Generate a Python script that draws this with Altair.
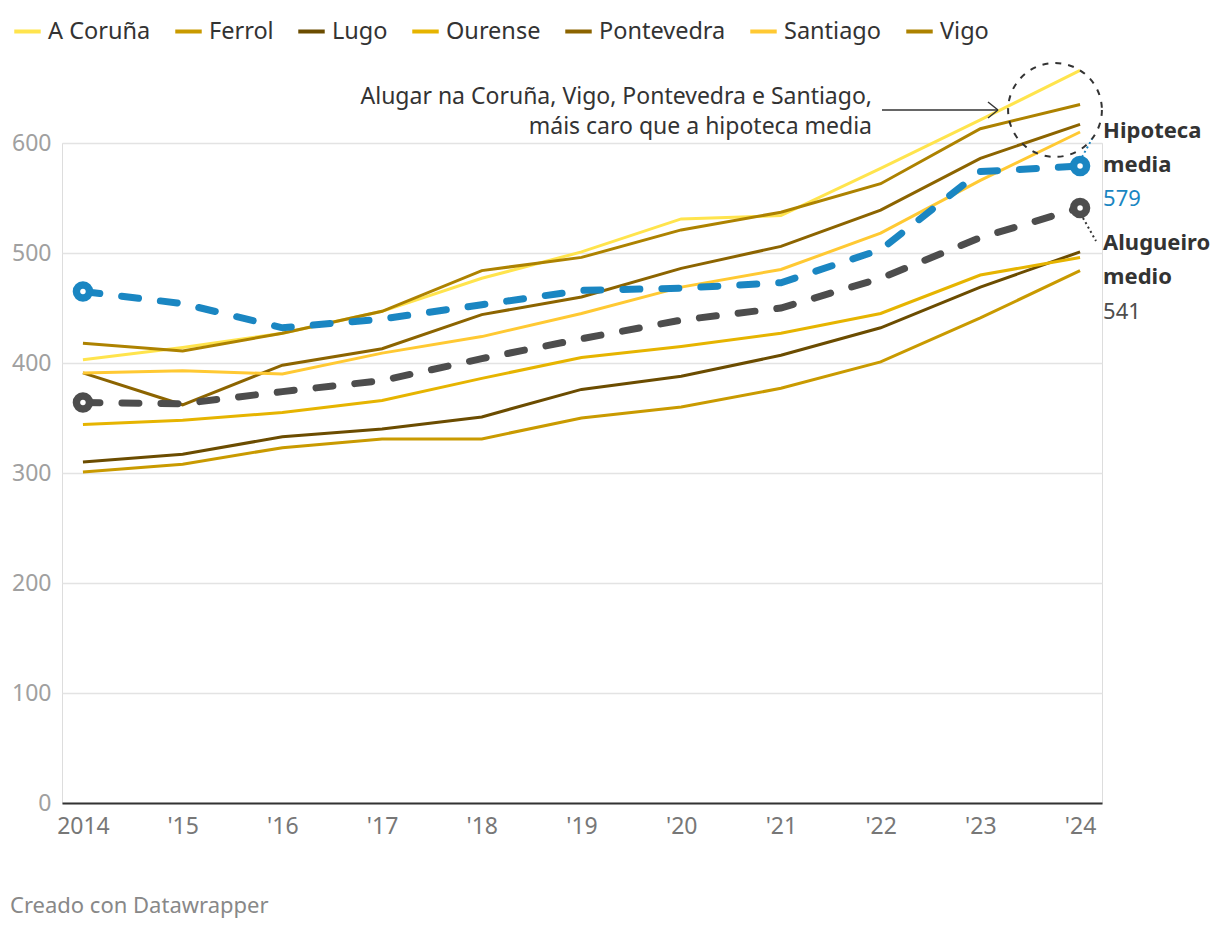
import altair as alt
import pandas as pd

years = [2014, 2015, 2016, 2017, 2018, 2019, 2020, 2021, 2022, 2023, 2024]
cities = ["A Coruña", "Ferrol", "Lugo", "Ourense", "Pontevedra", "Santiago", "Vigo"]
city_colors = ["#ffe44d", "#c99a00", "#6b4c00", "#e6b400", "#8c6400", "#ffc933", "#ad8200"]

a_coruna = [403, 414, 427, 447, 477, 501, 531, 534, 577, 621, 666]
ferrol = [301, 308, 323, 331, 331, 350, 360, 377, 401, 441, 484]
lugo = [310, 317, 333, 340, 351, 376, 388, 407, 432, 469, 501]
ourense = [344, 348, 355, 366, 386, 405, 415, 427, 445, 480, 496]
pontevedra = [391, 362, 398, 413, 444, 460, 486, 506, 539, 586, 617]
santiago = [391, 393, 390, 409, 424, 445, 469, 485, 518, 566, 610]
vigo = [418, 411, 427, 447, 484, 496, 521, 537, 563, 613, 635]

hipoteca = [465, 454, 432, 440, 453, 466, 468, 473, 503, 574, 579]
alugueiro = [364, 363, 374, 384, 404, 422, 439, 450, 477, 514, 541]

tick_years = years
y_ticks = [0, 100, 200, 300, 400, 500, 600]

series = [a_coruna, ferrol, lugo, ourense, pontevedra, santiago, vigo]
rows = []
for c, vals in zip(cities, series):
    for yr, v in zip(years, vals):
        rows.append({"year": yr, "value": v, "city": c})
df = pd.DataFrame(rows)

avg = pd.DataFrame(
    [{"year": yr, "value": v, "serie": "Hipoteca media"} for yr, v in zip(years, hipoteca)]
    + [{"year": yr, "value": v, "serie": "Alugueiro medio"} for yr, v in zip(years, alugueiro)]
)

W, H = 1040, 660
FONT = "Noto Sans"
BLUE = "#1a86c2"
GRAY = "#4d4d4d"

xscale = alt.Scale(domain=[2013.79, 2024.22], nice=False, zero=False)
yscale = alt.Scale(domain=[0, 600], nice=False)

x_enc = alt.X(
    "year:Q",
    scale=xscale,
    axis=alt.Axis(
        values=tick_years,
        labelExpr="datum.value == 2014 ? '2014' : \"'\" + substring(toString(datum.value), 2, 4)",
        title=None,
        grid=False,
        ticks=False,
        domain=True,
        domainColor="#333333",
        domainWidth=2,
        labelColor="#777777",
        labelFontSize=23,
        labelFont=FONT,
        labelPadding=12,
        labelFlush=False,
    ),
)
y_enc = alt.Y(
    "value:Q",
    scale=yscale,
    axis=alt.Axis(
        values=y_ticks,
        title=None,
        grid=True,
        gridColor="#e3e3e3",
        gridWidth=1.5,
        ticks=False,
        domain=False,
        labelColor="#a0a0a0",
        labelFontSize=23,
        labelFont=FONT,
        labelPadding=11,
    ),
)

city_lines = alt.Chart(df).mark_line(strokeWidth=3, clip=False).encode(
    x=x_enc,
    y=y_enc,
    color=alt.Color(
        "city:N",
        scale=alt.Scale(domain=cities, range=city_colors),
        legend=alt.Legend(
            title=None,
            orient="none",
            direction="horizontal",
            legendX=-50,
            legendY=-127,
            symbolType="stroke",
            symbolSize=700,
            symbolStrokeWidth=4,
            labelFontSize=23.5,
            labelFont=FONT,
            labelColor="#333333",
            labelOffset=5,
            columnPadding=16,
            padding=0,
        ),
    ),
)

hip = avg[avg.serie == "Hipoteca media"]
alu = avg[avg.serie == "Alugueiro medio"]


def dashed(d, color):
    line = alt.Chart(d).mark_line(
        strokeWidth=7, strokeDash=[17, 22], strokeCap="round", color=color, clip=False
    ).encode(x="year:Q", y="value:Q")
    ends = d[d.year.isin([years[0], years[-1]])]
    big = alt.Chart(ends).mark_point(
        filled=True, size=420, color=color, opacity=1, shape="circle"
    ).encode(x="year:Q", y="value:Q")
    small = alt.Chart(ends).mark_point(
        filled=True, size=30, color="white", opacity=1, shape="circle"
    ).encode(x="year:Q", y="value:Q")
    return [line, big, small]


last_hip = hip[hip.year == years[-1]]
last_alu = alu[alu.year == years[-1]]


def label(d, txt, dy, color, bold):
    return alt.Chart(d).mark_text(
        text=txt,
        align="left",
        baseline="middle",
        dx=23,
        dy=dy,
        fontSize=22,
        font=FONT,
        fontWeight="bold" if bold else "normal",
        color=color,
    ).encode(x="year:Q", y="value:Q")


labels = [
    label(last_hip, "Hipoteca", -35, "#333333", True),
    label(last_hip, "media", -1, "#333333", True),
    label(last_hip, str(hipoteca[-1]), 33, BLUE, False),
    label(last_alu, "Alugueiro", 35, "#333333", True),
    label(last_alu, "medio", 69, "#333333", True),
    label(last_alu, str(alugueiro[-1]), 104, GRAY, False),
]

ann_lines = ["Alugar na Coruña, Vigo, Pontevedra e Santiago,", "máis caro que a hipoteca media"]
ann = [
    alt.Chart(pd.DataFrame({"t": [t]})).mark_text(
        text=t, align="right", baseline="middle", fontSize=23, font=FONT, color="#333333"
    ).encode(x=alt.value(810), y=alt.value(-46 + 30 * i))
    for i, t in enumerate(ann_lines)
]

one = pd.DataFrame({"a": [0]})
arrow = [
    alt.Chart(one).mark_rule(color="#333333", strokeWidth=1.5).encode(
        x=alt.value(820), x2=alt.value(936), y=alt.value(-33), y2=alt.value(-33)
    ),
    alt.Chart(one).mark_rule(color="#333333", strokeWidth=1.5).encode(
        x=alt.value(926), x2=alt.value(936), y=alt.value(-41), y2=alt.value(-33)
    ),
    alt.Chart(one).mark_rule(color="#333333", strokeWidth=1.5).encode(
        x=alt.value(926), x2=alt.value(936), y=alt.value(-25), y2=alt.value(-33)
    ),
]
ellipse = alt.Chart(one).mark_point(
    shape="circle", size=8800, filled=False, color="#333333", opacity=1, strokeWidth=2, strokeDash=[6, 7]
).encode(x=alt.value(993), y=alt.value(-33))

connectors = [
    alt.Chart(one).mark_rule(color=BLUE, strokeWidth=2, strokeDash=[2, 3]).encode(
        x=alt.value(1020), x2=alt.value(1030), y=alt.value(14), y2=alt.value(-4)
    ),
    alt.Chart(one).mark_rule(color="#333333", strokeWidth=2, strokeDash=[2, 3]).encode(
        x=alt.value(1021), x2=alt.value(1034), y=alt.value(75), y2=alt.value(98)
    ),
]

footer = alt.Chart(one).mark_text(
    text="Creado con Datawrapper", align="left", baseline="middle", fontSize=22, font=FONT, color="#888888"
).encode(x=alt.value(-52), y=alt.value(H + 103))

chart = alt.layer(
    city_lines,
    *dashed(alu, GRAY),
    *dashed(hip, BLUE),
    *labels,
    *ann,
    *arrow,
    ellipse,
    *connectors,
    footer,
).properties(
    width=W,
    height=H,
    padding={"left": 62, "top": 143, "right": 118, "bottom": 127},
    autosize=alt.AutoSizeParams(type="none"),
).configure_view(stroke=None).configure(font=FONT)

chart.save("out.html", embed_options={"renderer": "svg", "actions": False})
